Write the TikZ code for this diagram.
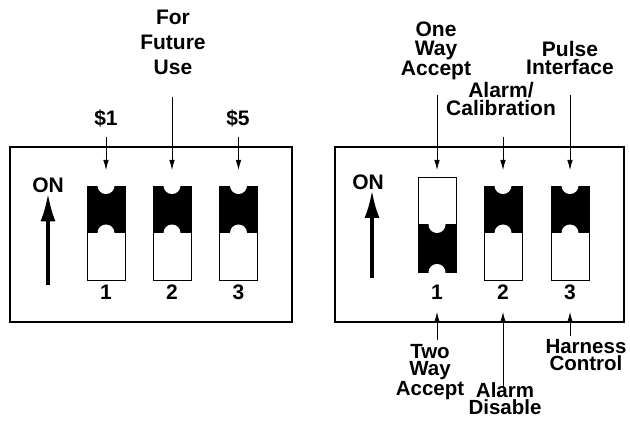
\documentclass[tikz,border=0pt]{standalone}
\usepackage{fontspec}
\setmainfont{Liberation Sans}
\usetikzlibrary{arrows.meta}
\newcommand\swUp[1]{\begin{scope}
  \clip (#1.north west) rectangle (#1.south east);
  \fill[black] (#1.north west) rectangle (#1.east);
  \fill[white] (#1.north) circle[radius=8.5pt];
  \fill[white] (#1.center) circle[radius=8.5pt];
\end{scope}}
\newcommand\swDown[1]{\begin{scope}
  \clip (#1.north west) rectangle (#1.south east);
  \fill[black] (#1.west) rectangle (#1.south east);
  \fill[white] (#1.center) circle[radius=8.5pt];
  \fill[white] (#1.south) circle[radius=8.5pt];
\end{scope}}
\begin{document}
\begin{tikzpicture}[x=1pt,y=-1pt,
  lbl/.style={font=\fontsize{21}{18.5}\selectfont\bfseries, align=center, inner sep=0pt, anchor=north},
  botlbl/.style={lbl, font=\fontsize{20.5}{17.5}\selectfont\bfseries},
  panel/.style={draw, line width=1.2pt},
  sw/.style={draw, line width=0.9pt, minimum width=38pt, minimum height=94pt, inner sep=0pt},
  arr/.style={line width=0.8pt, -{Latex[length=10pt,width=5.5pt]}},
  onarr/.style={line width=3.6pt, -{Latex[length=28pt,width=15pt]}}]
\useasboundingbox (0,0) rectangle (630,422);
% ---------- left panel ----------
\node[panel, minimum width=282pt, minimum height=175pt, inner sep=0pt] (boxL) at (151,234.5) {};
\node[sw] (s1) at (106,233) {};
\node[sw] (s2) at (172,233) {};
\node[sw] (s3) at (238.5,233) {};
\swUp{s1}\swUp{s2}\swUp{s3}
\node[lbl] (n1) at (106,285) {1};
\node[lbl] (n2) at (172,285) {2};
\node[lbl] (n3) at (238.5,285) {3};
\node[lbl] (onL) at (48,178) {ON};
\coordinate (onLtail) at (48,285);
\draw[onarr] (onLtail) -- (onL.south);
\node[lbl] (d1) at (106,110) {\$1};
\node[lbl] (d5) at (238,110) {\$5};
\node[lbl, font=\fontsize{21}{25}\selectfont\bfseries] (ffu) at (173,10) {For\\Future\\Use};
\draw[arr] (s1.north |- 0,137) -- (s1.north |- 0,170);
\draw[arr] (s2.north |- 0,97) -- (s2.north |- 0,170);
\draw[arr] (s3.north |- 0,137) -- (s3.north |- 0,170);
% ---------- right panel ----------
\node[panel, minimum width=289pt, minimum height=175pt, inner sep=0pt] (boxR) at (479.5,234.5) {};
\node[sw, minimum height=95pt] (r1) at (437,224.5) {};
\node[sw] (r2) at (503,233) {};
\node[sw] (r3) at (570,233) {};
\swDown{r1}\swUp{r2}\swUp{r3}
\node[lbl] (m1) at (437,285) {1};
\node[lbl] (m2) at (503,285) {2};
\node[lbl] (m3) at (570,285) {3};
\node[lbl] (onR) at (368,175) {ON};
\coordinate (onRtail) at (372,278);
\coordinate (onRtip) at (372,190);
\draw[onarr] (onRtail) -- (onRtip);
\node[lbl] (owa) at (436,22) {One\\Way\\Accept};
\node[lbl] (alc) at (501,82) {Alarm/\\Calibration};
\node[lbl] (pif) at (570,41) {Pulse\\Interface};
\draw[arr] (r1.north |- 0,95) -- (r1.north |- 0,170);
\draw[arr] (r2.north |- 0,137) -- (r2.north |- 0,170);
\draw[arr] (r3.north |- 0,95) -- (r3.north |- 0,170);
\node[botlbl] (twa) at (430,344) {Two\\Way\\Accept};
\node[botlbl] (ald) at (505,382) {Alarm\\Disable};
\node[botlbl] (hac) at (586,339) {Harness\\Control};
\draw[arr] (r1.south |- 0,340) -- (r1.south |- 0,312);
\draw[arr] (r2.south |- 0,387) -- (r2.south |- 0,312);
\draw[arr] (r3.south |- 0,336) -- (r3.south |- 0,312);
\end{tikzpicture}
\end{document}
